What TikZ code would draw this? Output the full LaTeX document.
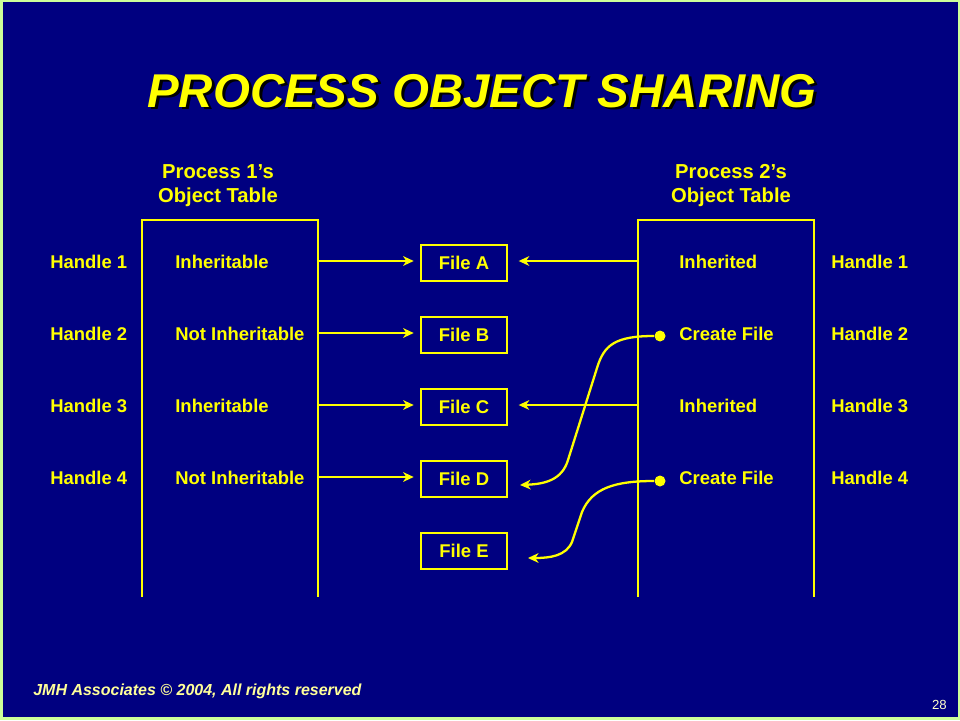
\documentclass[tikz,border=0pt]{standalone}
\usepackage{fontspec}
\setmainfont{Liberation Sans}
\usetikzlibrary{arrows.meta}
\definecolor{slidebg}{RGB}{0,0,128}
\definecolor{slideedge}{RGB}{204,255,153}
\definecolor{hl}{RGB}{255,255,0}
\definecolor{footcol}{RGB}{255,255,153}
\definecolor{pagecol}{RGB}{255,255,204}
\newcommand{\shadowed}[1]{\makebox[0pt][l]{\hspace{1.7pt}\raisebox{-1.7pt}{\textcolor{black}{#1}}}#1}
\begin{document}
\begin{tikzpicture}[x = 0.02cm, y = -0.02cm,
	txt/.style = {inner sep = 0, anchor = base west, text = hl, font = \fontsize{10.5}{12}\selectfont\bfseries},
	head/.style = {inner sep = 0, anchor = base, text = hl, font = \fontsize{11.5}{13}\selectfont\bfseries},
	file/.style = {draw = hl, line width = 1.3pt, minimum width = 1.72cm, minimum height = 0.72cm, inner sep = 0, text = hl, font = \fontsize{10.5}{12}\selectfont\bfseries},
	link/.style = {hl, line width = 1.3pt, -{Stealth[length = 6pt, width = 5.5pt, inset = 1.8pt]}}]
	% Slide
	\useasboundingbox (0, 0) rectangle (960, 720);
	\fill[slideedge] (0, 0) rectangle (960, 720);
	\fill[slidebg] (3, 2) rectangle (958, 717);
	
	% Title
	\node[inner sep = 0, anchor = base, text = hl, font = \fontsize{27}{32}\selectfont\bfseries\itshape] (title) at (482, 107) {\shadowed{PROCESS OBJECT SHARING}};
	
	% Tables
	\node[head] (p1a) at (218, 178) {Process 1’s};
	\node[head] (p1b) at (218, 202) {Object Table};
	\node[head] (p2a) at (731, 178) {Process 2’s};
	\node[head] (p2b) at (731, 202) {Object Table};
	\draw[hl, line width = 1.3pt] (142, 597) -- (142, 220) -- (318, 220) -- (318, 597);
	\draw[hl, line width = 1.3pt] (638, 597) -- (638, 220) -- (814, 220) -- (814, 597);
	
	% Rows
	\foreach \i/\pa/\pb in {1/Inheritable/Inherited, 2/Not Inheritable/Create File, 3/Inheritable/Inherited, 4/Not Inheritable/Create File} {
		\pgfmathsetmacro\yy{261 + 72 * (\i - 1)}
		\node[txt] (ha\i) at (50, \yy + 7) {Handle \i};
		\node[txt] (ra\i) at (175, \yy + 7) {\pa};
		\node[txt] (rb\i) at (679, \yy + 7) {\pb};
		\node[txt] (hb\i) at (831, \yy + 7) {Handle \i};
		\coordinate (ea\i) at (318, \yy);
		\coordinate (eb\i) at (638, \yy);
	}
	
	% Files
	\foreach \f [count = \i] in {A, B, C, D, E}
		\node[file] (f\f) at (464, {263 + 72 * (\i - 1)}) {File \f};
	
	% Edges
	\foreach \i/\f in {1/A, 2/B, 3/C, 4/D}
		\draw[link, shorten >= 3.5pt] (ea\i) -- (f\f.west |- ea\i);
	\draw[link, shorten >= 6pt] (eb1) -- (fA.east |- eb1);
	\draw[link, shorten >= 6pt] (eb3) -- (fC.east |- eb3);
	
	\node[circle, fill = hl, inner sep = 0, minimum size = 0.22cm] (d2) at (660, 336) {};
	\node[circle, fill = hl, inner sep = 0, minimum size = 0.22cm] (d4) at (660, 481) {};
	\coordinate (tD) at (520, 485);
	\coordinate (tE) at (528, 558);
	\draw[link] (d2) .. controls (615, 336) and (604, 345) .. (597, 368) -- (568, 460) .. controls (562, 480) and (545, 484) .. (tD);
	\draw[link] (d4) .. controls (615, 481) and (592, 488) .. (582, 512) -- (572, 542) .. controls (566, 556) and (550, 558) .. (tE);
	
	% Footer
	\node[inner sep = 0, anchor = base west, text = footcol, font = \fontsize{9.1}{10}\selectfont\bfseries\itshape] (foot) at (33, 695) {JMH Associates © 2004, All rights reserved};
	\node[inner sep = 0, anchor = base east, text = pagecol, font = \fontsize{7.5}{9}\selectfont] (page) at (947, 709) {28};
\end{tikzpicture}
\end{document}
